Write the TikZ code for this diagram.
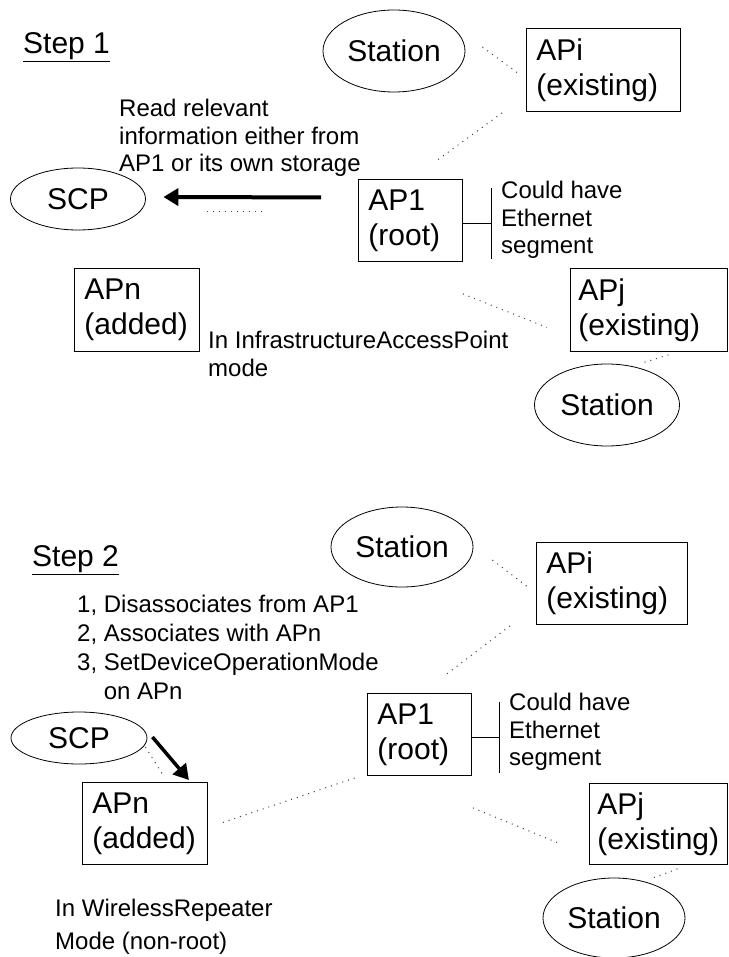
\documentclass[tikz,border=0pt]{standalone}
\usepackage{fontspec}
\setmainfont{Liberation Sans}
\usetikzlibrary{shapes.geometric,arrows.meta,calc}
\newcommand\bxfont{\fontsize{30}{35}\selectfont}
\newcommand\lbfont{\fontsize{24}{27.5}\selectfont}
\begin{document}
\begin{tikzpicture}[x=1pt,y=-1pt,
  apbox/.style={draw, line width=0.9pt, anchor=north west, align=left, inner xsep=10pt, inner ysep=0pt, font=\bxfont},
  stn/.style={draw, ellipse, line width=0.8pt, inner sep=0pt, font=\bxfont},
  lbl/.style={anchor=west, align=left, inner sep=0pt, font=\lbfont},
  steptxt/.style={anchor=west, inner sep=0pt, font=\bxfont},
  dotln/.style={line width=1pt, dash pattern=on 1pt off 5pt, black!75},
  bigarrow/.style={line width=4pt, -{Triangle[length=15pt,width=17pt]}},
  ethl/.style={line width=1pt}]
\fill[white] (0,0) rectangle (728,957);
\useasboundingbox (0,0) rectangle (728,957);

% ---------------- Step 1 ----------------
\node[steptxt] (s1) at (23,47) {\underline{Step 1}};
\node[stn, minimum width=142pt, minimum height=82pt] (st1) at (394,51) {Station};
\node[apbox, minimum width=154pt, minimum height=83pt, text width=134pt] (api1) at (526,28) {APi\\(existing)};
\node[apbox, minimum width=104pt, minimum height=82pt, text width=84pt] (ap1a) at (358,179) {AP1\\(root)};
\node[stn, minimum width=135pt, minimum height=62pt] (scp1) at (78,199) {SCP};
\node[apbox, minimum width=125pt, minimum height=83pt, text width=105pt] (apn1) at (74,268) {APn\\(added)};
\node[apbox, inner xsep=8pt, minimum width=157pt, minimum height=83pt, text width=141pt] (apj1) at (570,268) {APj\\(existing)};
\node[stn, minimum width=145pt, minimum height=82pt] (st1b) at (607,405) {Station};

\node[lbl] (rd) at (119,138) {Read relevant\\information either from\\AP1 or its own storage};
\node[lbl] (eth1t) at (501,220) {Could have\\Ethernet\\segment};
\node[lbl] (infra) at (208,354) {In InfrastructureAccessPoint\\mode};

\draw[bigarrow] ($(ap1a.west)+(-37,-23)$) -- ($(scp1.east)+(17.5,-2)$);
\draw[dotln] (scp1.east) ++(61.5,13) -- ++(55,0);
\draw[dotln] ($(st1.east)+(17,-4)$) -- ($(api1.west)+(-9,2.5)$);
\draw[dotln] ($(api1.south west)+(-24,1)$) -- ($(ap1a.north)+(27,-19)$);
\draw[dotln] ($(ap1a.south east)+(0,32)$) -- ($(apj1.west)+(-23,17.5)$);
\draw[dotln] ($(apj1.south)+(19.5,3)$) -- ($(st1b.north)+(33,0)$);
\draw[ethl] (ap1a.east) ++(0,3) -- ++(29,0) coordinate (e1);
\draw[ethl] (e1) ++(0,-35) -- ++(0,71);

% ---------------- Step 2 ----------------
\node[steptxt] (s2) at (32,560) {\underline{Step 2}};
\node[lbl, font=\fontsize{24}{29}\selectfont] (lst) at (77,648.5) {1, Disassociates from AP1\\2, Associates with APn\\3, SetDeviceOperationMode\\\phantom{3, }on APn};
\node[stn, minimum width=142pt, minimum height=80pt] (st2) at (402,547) {Station};
\node[apbox, minimum width=151pt, minimum height=82pt, text width=131pt] (api2) at (536,542) {APi\\(existing)};
\node[apbox, minimum width=104pt, minimum height=82pt, text width=84pt] (ap12) at (367,693) {AP1\\(root)};
\node[stn, minimum width=136pt, minimum height=52pt] (scp2) at (79,738) {SCP};
\node[apbox, minimum width=125pt, minimum height=82pt, text width=105pt] (apn2) at (82,782) {APn\\(added)};
\node[apbox, inner xsep=8pt, minimum width=138pt, minimum height=81pt, text width=122pt] (apj2) at (589,783) {APj\\(existing)};
\node[stn, minimum width=142pt, minimum height=80pt] (st2b) at (614,918) {Station};

\node[lbl] (eth2t) at (509,732) {Could have\\Ethernet\\segment};
\node[lbl, font=\fontsize{24}{33}\selectfont] (wr) at (55,926.5) {In WirelessRepeater\\Mode (non-root)};

\draw[dotln] ($(st2.east)+(19,13)$) -- ($(api2.west)+(-9,3)$);
\draw[dotln] ($(api2.south west)+(-26,1)$) -- ($(ap12.north)+(26,-18)$);
\draw[dotln] ($(ap12.south east)+(1,32)$) -- ($(apj2.west)+(-32,18.5)$);
\draw[dotln] ($(apj2.south)+(19,4)$) -- ($(st2b.north)+(37,1)$);
\draw[dotln] ($(scp2.east)+(-2,9)$) -- ($(apn2.north west)+(81,-7)$);
\draw[dotln] ($(apn2.east)+(15,-1)$) -- ($(ap12.south west)+(-12,2)$);
\draw[bigarrow, line width=3.5pt] ($(scp2.east)+(5,-1)$) -- ($(apn2.north east)+(-19,-2)$);
\draw[ethl] (ap12.east) ++(0,3) -- ++(28,0) coordinate (e2);
\draw[ethl] (e2) ++(0,-35) -- ++(0,71);
\end{tikzpicture}
\end{document}
